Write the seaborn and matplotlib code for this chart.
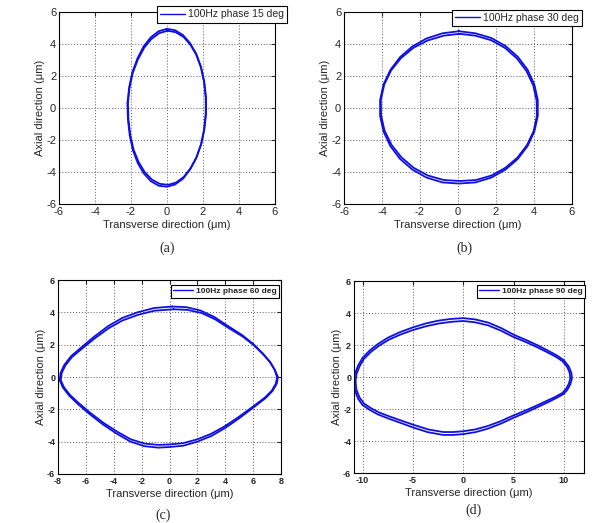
# Orbit plots: transverse vs axial displacement at 100 Hz for four phase angles
import numpy as np
import matplotlib.pyplot as plt
import seaborn as sns

# ---- data (µm), two passes of each orbit ----
# (a) 15 deg
a_x1 = [0.00, 0.45, 0.89, 1.28, 1.62, 1.89, 2.07, 2.17, 2.17, 2.07, 1.89, 1.62, 1.28, 0.89, 0.45,
        0.00, -0.45, -0.89, -1.28, -1.62, -1.89, -2.07, -2.17, -2.20, -2.10, -1.92, -1.64, -1.30, -0.90, -0.46, 0.00]
a_y1 = [4.95, 4.86, 4.56, 4.06, 3.40, 2.58, 1.65, 0.65, -0.38, -1.38, -2.30, -3.15, -3.85, -4.42, -4.78,
        -4.92, -4.86, -4.58, -4.10, -3.45, -2.65, -1.72, -0.72, 0.30, 1.30, 2.25, 3.10, 3.85, 4.42, 4.80, 4.95]
a_x2 = [0.03, 0.48, 0.91, 1.30, 1.63, 1.89, 2.06, 2.15, 2.15, 2.06, 1.90, 1.64, 1.31, 0.93, 0.50,
        0.06, -0.40, -0.84, -1.24, -1.58, -1.86, -2.04, -2.14, -2.17, -2.08, -1.90, -1.62, -1.27, -0.87, -0.43, 0.03]
a_y2 = [4.83, 4.74, 4.45, 3.96, 3.32, 2.52, 1.62, 0.64, -0.36, -1.34, -2.24, -3.07, -3.76, -4.31, -4.66,
        -4.80, -4.74, -4.47, -4.00, -3.37, -2.59, -1.68, -0.70, 0.30, 1.27, 2.20, 3.03, 3.76, 4.31, 4.68, 4.83]

# (b) 30 deg
b_x1 = [0.05, 0.92, 1.75, 2.50, 3.15, 3.66, 4.02, 4.20, 4.20, 4.02, 3.66, 3.15, 2.50, 1.75, 0.92,
        0.05, -0.82, -1.65, -2.40, -3.05, -3.56, -3.92, -4.10, -4.10, -3.92, -3.56, -3.05, -2.40, -1.65, -0.82, 0.05]
b_y1 = [4.80, 4.67, 4.38, 3.88, 3.20, 2.40, 1.47, 0.50, -0.50, -1.47, -2.38, -3.18, -3.85, -4.35, -4.65,
        -4.72, -4.65, -4.35, -3.85, -3.18, -2.38, -1.47, -0.50, 0.50, 1.47, 2.38, 3.18, 3.85, 4.35, 4.67, 4.80]
b_x2 = [0.08, 0.93, 1.74, 2.47, 3.10, 3.60, 3.96, 4.14, 4.15, 3.98, 3.63, 3.13, 2.49, 1.76, 0.95,
        0.10, -0.75, -1.58, -2.33, -2.98, -3.50, -3.87, -4.05, -4.06, -3.88, -3.52, -3.00, -2.35, -1.60, -0.76, 0.08]
b_y2 = [4.64, 4.52, 4.24, 3.76, 3.10, 2.32, 1.42, 0.46, -0.50, -1.45, -2.32, -3.10, -3.74, -4.22, -4.50,
        -4.56, -4.50, -4.22, -3.74, -3.08, -2.30, -1.40, -0.44, 0.52, 1.48, 2.35, 3.12, 3.76, 4.22, 4.52, 4.64]

# (c) 60 deg
c_x1 = [0.20, 1.20, 2.20, 3.20, 4.20, 5.20, 6.00, 6.70, 7.20, 7.55, 7.78, 7.70, 7.40, 6.90, 6.00, 5.00,
        4.00, 3.00, 2.00, 1.00, 0.00, -0.80, -1.80, -2.80, -3.80, -4.80, -5.80, -6.60, -7.20, -7.65,
        -7.88, -7.82, -7.55, -7.05, -6.30, -5.40, -4.40, -3.40, -2.30, -1.10, 0.20]
c_y1 = [4.36, 4.32, 4.12, 3.72, 3.15, 2.60, 2.05, 1.45, 0.95, 0.45, 0.00, -0.40, -0.85, -1.30, -1.90, -2.55,
        -3.15, -3.65, -4.00, -4.25, -4.33, -4.37, -4.28, -4.00, -3.50, -2.92, -2.25, -1.65, -1.15, -0.65,
        -0.20, 0.25, 0.75, 1.30, 1.85, 2.50, 3.15, 3.65, 4.00, 4.27, 4.36]
c_x2 = [0.30, 1.30, 2.30, 3.27, 4.26, 5.25, 6.04, 6.73, 7.22, 7.55, 7.72, 7.62, 7.33, 6.83, 5.94, 4.95,
        3.96, 2.97, 1.98, 0.99, 0.00, -0.79, -1.78, -2.77, -3.76, -4.75, -5.74, -6.53, -7.13, -7.57,
        -7.80, -7.74, -7.47, -6.98, -6.24, -5.35, -4.36, -3.37, -2.28, -1.09, 0.30]
c_y2 = [4.19, 4.15, 3.96, 3.57, 3.02, 2.50, 1.97, 1.39, 0.91, 0.43, -0.04, -0.42, -0.85, -1.28, -1.86, -2.48,
        -3.05, -3.52, -3.86, -4.09, -4.17, -4.20, -4.12, -3.86, -3.38, -2.83, -2.18, -1.60, -1.12, -0.64,
        -0.20, 0.24, 0.72, 1.25, 1.78, 2.40, 3.02, 3.50, 3.84, 4.10, 4.19]

# (d) 90 deg
d_x1 = [-10.85, -10.75, -10.45, -10.00, -9.30, -8.50, -7.50, -6.30, -5.00, -3.70, -2.50, -1.20, 0.00,
        1.20, 2.50, 3.80, 5.00, 6.30, 7.50, 8.50, 9.30, 10.00, 10.50, 10.75, 10.80, 10.65, 10.35, 10.00,
        9.30, 8.50, 7.50, 6.30, 5.00, 3.80, 2.50, 1.20, 0.00, -1.00, -2.00, -3.50, -5.00, -6.30, -7.50,
        -8.50, -9.30, -10.00, -10.45, -10.75, -10.85]
d_y1 = [-0.30, 0.20, 0.70, 1.20, 1.65, 2.05, 2.45, 2.80, 3.10, 3.35, 3.52, 3.63, 3.68,
        3.60, 3.40, 3.05, 2.65, 2.30, 1.95, 1.62, 1.35, 1.05, 0.65, 0.25, -0.10, -0.45, -0.80, -1.05,
        -1.30, -1.55, -1.85, -2.20, -2.55, -2.90, -3.22, -3.45, -3.57, -3.62, -3.62, -3.45, -3.15, -2.85, -2.58,
        -2.33, -2.05, -1.75, -1.35, -0.85, -0.30]
d_x2 = [-10.70, -10.60, -10.30, -9.85, -9.16, -8.37, -7.39, -6.21, -4.93, -3.64, -2.46, -1.18, 0.00,
        1.18, 2.46, 3.74, 4.93, 6.21, 7.39, 8.37, 9.16, 9.85, 10.34, 10.59, 10.64, 10.49, 10.20, 9.85,
        9.16, 8.37, 7.39, 6.21, 4.93, 3.74, 2.46, 1.18, 0.00, -0.99, -1.97, -3.45, -4.93, -6.21, -7.39,
        -8.37, -9.16, -9.85, -10.30, -10.60, -10.70]
d_y2 = [-0.28, 0.19, 0.66, 1.14, 1.57, 1.95, 2.33, 2.66, 2.95, 3.18, 3.34, 3.45, 3.50,
        3.42, 3.23, 2.90, 2.52, 2.19, 1.85, 1.54, 1.28, 1.00, 0.62, 0.24, -0.10, -0.43, -0.76, -1.00,
        -1.24, -1.47, -1.76, -2.09, -2.42, -2.76, -3.06, -3.28, -3.39, -3.44, -3.44, -3.28, -2.99, -2.71, -2.45,
        -2.21, -1.95, -1.66, -1.28, -0.81, -0.28]

labels = ["100Hz phase 15 deg", "100Hz phase 30 deg", "100Hz phase 60 deg", "100Hz phase 90 deg"]
captions = ["(a)", "(b)", "(c)", "(d)"]

sns.set_style("white")
plt.rcParams['font.family'] = ['Liberation Sans', 'DejaVu Sans']
plt.rcParams['axes.unicode_minus'] = False

fig = plt.figure(figsize=(6.12, 5.23), dpi=100)

# axes boxes in figure fractions
boxes = [[0.0964, 0.6099, 0.3529, 0.3671],
         [0.5621, 0.6099, 0.3725, 0.3671],
         [0.0948, 0.0937, 0.3644, 0.3709],
         [0.5784, 0.0956, 0.3758, 0.3671]]
xlims = [(-6, 6), (-6, 6), (-8, 8), (-10.85, 12)]
xticks = [np.arange(-6, 7, 2), np.arange(-6, 7, 2), np.arange(-8, 9, 2), np.arange(-10, 11, 5)]
legend_anchor = [(1.056, 1.03), (1.044, 1.012), (0.991, 0.974), (1.004, 0.979)]
tick_fs = [8, 8, 6.5, 6.5]
leg_fs = [7.5, 7.5, 6, 6]
cap_pos = [(167, 248), (464, 248), (163, 515), (473, 510)]

traces = [(a_x1, a_y1, a_x2, a_y2), (b_x1, b_y1, b_x2, b_y2),
          (c_x1, c_y1, c_x2, c_y2), (d_x1, d_y1, d_x2, d_y2)]

for i, (x1, y1, x2, y2) in enumerate(traces):
    ax = fig.add_axes(boxes[i])
    sns.lineplot(x=x1, y=y1, sort=False, estimator=None, color="#1010e0", lw=1.3, ax=ax, label=labels[i])
    sns.lineplot(x=x2, y=y2, sort=False, estimator=None, color="#1010e0", lw=1.3, ax=ax)
    ax.set_xlim(*xlims[i])
    ax.set_ylim(-6, 6)
    ax.set_xticks(xticks[i])
    ax.set_yticks(np.arange(-6, 7, 2))
    bold = "bold" if i >= 2 else "normal"
    ax.tick_params(direction="in", length=3, top=True, right=True, labelsize=tick_fs[i], pad=2)
    for t in ax.get_xticklabels() + ax.get_yticklabels():
        t.set_fontweight(bold)
    ax.grid(True, linestyle=(0, (1, 2)), color="0.35", lw=0.7)
    for s in ax.spines.values():
        s.set_color("black")
        s.set_linewidth(0.8)
    ax.set_xlabel("Transverse direction (μm)", fontsize=8, labelpad=2)
    ax.set_ylabel("Axial direction (μm)", fontsize=8, labelpad=1)
    leg = ax.legend(loc="upper right", bbox_to_anchor=legend_anchor[i], fontsize=leg_fs[i],
                    frameon=True, fancybox=False, framealpha=1, edgecolor="black",
                    handlelength=2.4, borderpad=0.3, borderaxespad=0, handletextpad=0.3)
    leg.get_frame().set_linewidth(0.8)
    for line in leg.get_lines():
        line.set_linewidth(1.0)
    for t in leg.get_texts():
        t.set_fontweight(bold)
    fig.text(cap_pos[i][0] / 612, 1 - cap_pos[i][1] / 523, captions[i], ha="center", va="center",
             fontsize=10, family=["Liberation Serif", "DejaVu Serif"])

fig.savefig("out.png", dpi=100)
